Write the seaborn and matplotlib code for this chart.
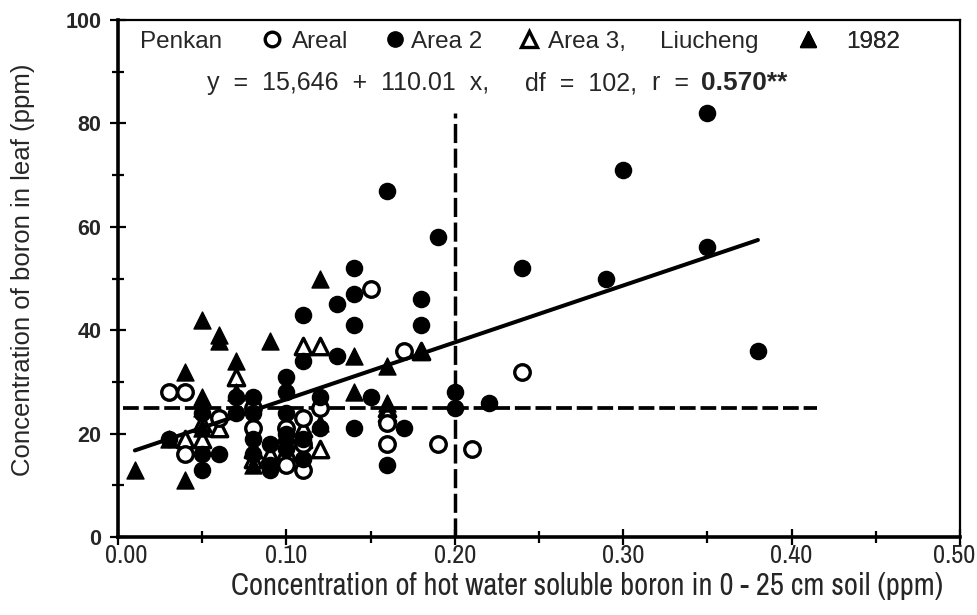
import matplotlib
matplotlib.use("Agg")
import matplotlib.pyplot as plt
import matplotlib.transforms as mtransforms
from matplotlib.lines import Line2D
import seaborn as sns
import numpy as np
import pandas as pd

# ---------------- data ----------------
area1_x = [0.03, 0.04, 0.04, 0.06, 0.08, 0.08, 0.10, 0.10, 0.10, 0.11, 0.11, 0.11,
           0.15, 0.17, 0.16, 0.16, 0.19, 0.21, 0.24, 0.12]
area1_y = [28, 28, 16, 23, 21, 25, 21, 15, 14, 23, 13, 18,
           48, 36, 22, 18, 18, 17, 32, 25]

area2_x = [0.35, 0.30, 0.35, 0.29, 0.24, 0.38, 0.22, 0.20, 0.20, 0.16, 0.19, 0.14,
           0.14, 0.13, 0.14, 0.18, 0.18, 0.11, 0.13, 0.11, 0.12, 0.15, 0.17, 0.14,
           0.16, 0.10, 0.10, 0.10, 0.10, 0.10, 0.09, 0.09, 0.08, 0.08, 0.07, 0.08,
           0.06, 0.05, 0.05, 0.05, 0.03, 0.11, 0.11, 0.08, 0.09, 0.12, 0.07]
area2_y = [82, 71, 56, 50, 52, 36, 26, 28, 25, 67, 58, 52,
           47, 45, 41, 46, 41, 43, 35, 34, 27, 27, 21, 21,
           14, 31, 28, 24, 20, 17, 18, 14, 19, 24, 27, 27,
           16, 24, 16, 13, 19, 19, 15, 16, 13, 21, 24]

area3_x = [0.04, 0.05, 0.06, 0.07, 0.08, 0.09, 0.10, 0.11, 0.12, 0.11, 0.12, 0.16,
           0.18, 0.16, 0.05, 0.08, 0.11]
area3_y = [19, 19, 21, 31, 15, 16, 20, 37, 37, 19, 17, 25,
           36, 24, 22, 17, 21]

y1982_x = [0.01, 0.04, 0.04, 0.05, 0.06, 0.07, 0.09, 0.12, 0.14, 0.14, 0.16, 0.18,
           0.03, 0.05, 0.05, 0.07, 0.08, 0.12, 0.10, 0.06, 0.16, 0.05]
y1982_y = [13, 11, 32, 42, 39, 34, 38, 50, 35, 28, 33, 36,
           19, 27, 25, 28, 14, 22, 16, 38, 26, 21]

# regression (from the printed equation)
reg_intercept = 15.646
reg_slope = 110.01
reg_x_range = [0.01, 0.38]

# reference (critical) levels
critical_soil_b = 0.20
critical_soil_b_top = 82
critical_leaf_b = 25
critical_leaf_b_xrange = [0.003, 0.415]

x_ticks = [0.0, 0.1, 0.2, 0.3, 0.4, 0.5]
x_ticklabels = ["0.00", "0.10", "0.20", "0.30", "0.40", "0.50"]
y_ticks = [0, 20, 40, 60, 80, 100]

# ---------------- plot ----------------
sns.set_theme(style="white")
plt.rcParams["font.family"] = ["Liberation Sans", "DejaVu Sans"]
NARROW = ["Archivo Narrow", "Liberation Sans"]

fig = plt.figure(figsize=(9.78, 6.15), dpi=100)
ax = fig.add_axes([0.1207, 0.1268, 0.8609, 0.8407])

df = pd.concat([
    pd.DataFrame({"x": area1_x, "y": area1_y, "g": "Areal"}),
    pd.DataFrame({"x": area2_x, "y": area2_y, "g": "Area 2"}),
    pd.DataFrame({"x": area3_x, "y": area3_y, "g": "Area 3"}),
    pd.DataFrame({"x": y1982_x, "y": y1982_y, "g": "1982"}),
])

styles = {
    "Areal": dict(marker="o", facecolor="white", edgecolor="black", s=125, linewidth=2.4),
    "Area 2": dict(marker="o", facecolor="black", edgecolor="black", s=135, linewidth=1),
    "Area 3": dict(marker="^", facecolor="white", edgecolor="black", s=140, linewidth=2.4),
    "1982": dict(marker="^", facecolor="black", edgecolor="black", s=150, linewidth=1),
}
for g in ["Area 3", "1982", "Areal", "Area 2"]:
    st = styles[g]
    sub = df[df["g"] == g]
    sns.scatterplot(data=sub, x="x", y="y", ax=ax, marker=st["marker"],
                    color=st["facecolor"], edgecolor=st["edgecolor"],
                    s=st["s"], linewidth=st["linewidth"], zorder=3, legend=False)

# regression line
rx = np.array(reg_x_range)
sns.lineplot(x=rx, y=reg_intercept + reg_slope * rx, ax=ax, color="black",
             linewidth=2.9, zorder=4)

# critical lines
ax.plot([critical_soil_b, critical_soil_b], [0, critical_soil_b_top],
        color="black", linewidth=2.5, linestyle=(0, (5.5, 1.6)), zorder=2)
ax.plot(critical_leaf_b_xrange, [critical_leaf_b, critical_leaf_b],
        color="black", linewidth=2.7, linestyle=(0, (4.2, 1.3)), zorder=2)

ax.set_xlim(0, 0.5)
ax.set_ylim(0, 100)
ax.set_xticks(x_ticks)
ax.set_xticklabels(x_ticklabels)
ax.set_yticks(y_ticks)
ax.set_xticks(np.arange(0.05, 0.5, 0.1), minor=True)
ax.set_yticks(np.arange(10, 100, 20), minor=True)

for sp in ax.spines.values():
    sp.set_color("black")
    sp.set_linewidth(1.6)
ax.spines["left"].set_linewidth(2.6)
ax.spines["bottom"].set_linewidth(2.6)

ax.tick_params(axis="both", which="major", direction="inout", length=12, width=1.6,
               color="black", bottom=True, left=True, top=False, right=False)
ax.tick_params(axis="both", which="minor", direction="inout", length=9, width=1.6,
               color="black", bottom=True, left=True, top=False, right=False)
ax.tick_params(axis="y", labelsize=15.5, pad=6)
ax.tick_params(axis="x", labelsize=19, pad=-1)
for lab in ax.get_yticklabels():
    lab.set_fontweight("bold")
xlabs = ax.get_xticklabels()
for lab in xlabs:
    lab.set_family(NARROW)
xlabs[0].set_transform(xlabs[0].get_transform() +
                       mtransforms.ScaledTranslation(0.08, 0, fig.dpi_scale_trans))
xlabs[-1].set_horizontalalignment("right")
xlabs[-1].set_transform(xlabs[-1].get_transform() +
                        mtransforms.ScaledTranslation(0.15, 0, fig.dpi_scale_trans))

ax.set_xlabel("Concentration of hot water soluble boron in 0 - 25 cm soil (ppm)",
              fontsize=22, family=NARROW, va="center")
ax.xaxis.set_label_coords(0.557, -0.095)
ax.set_ylabel("Concentration of boron in leaf (ppm)", fontsize=18.5, va="center")
ax.yaxis.set_label_coords(-0.113, 0.516)
ax.grid(False)

# legend row: one legend per key so each sits where the original puts it
fs = 17.5
row1 = 0.958
ax.text(0.026, row1, "Penkan", transform=ax.transAxes, fontsize=fs, va="center", ha="left")
hl = 0.8
fs_px = fs * 100 / 72
half_px = hl * fs_px / 2
entries = [
    (Line2D([], [], linestyle="none", marker="o", markerfacecolor="white",
            markeredgecolor="black", markersize=10.5, markeredgewidth=2.4),
     "Areal", 272, 292),
    (Line2D([], [], linestyle="none", marker="o", markerfacecolor="black",
            markeredgecolor="black", markersize=11),
     "Area 2", 395, 411),
    (Line2D([], [], linestyle="none", marker="^", markerfacecolor="white",
            markeredgecolor="black", markersize=11, markeredgewidth=2.4),
     "Area 3,", 529, 548),
    (Line2D([], [], linestyle="none", marker="^", markerfacecolor="black",
            markeredgecolor="black", markersize=11.5),
     "1982", 808, 846),
]
for h, lab, mx, tx in entries:
    pad = (tx - mx - half_px) / fs_px
    lg = ax.legend([h], [lab], frameon=False, fontsize=fs, loc="center left",
                   bbox_to_anchor=((mx - half_px - 118) / 842, row1),
                   handlelength=hl, handletextpad=pad, borderaxespad=0, borderpad=0)
    ax.add_artist(lg)
ax.text((660 - 118) / 842, row1, "Liucheng", transform=ax.transAxes,
        fontsize=fs, va="center", ha="left")

eq_y = 0.878
fs2 = 18
ax.text((207 - 118) / 842, eq_y, "y  =  15,646  +  110.01  x,", transform=ax.transAxes,
        fontsize=fs2, va="center", ha="left")
ax.text((525 - 118) / 842, eq_y, "df  =  102,", transform=ax.transAxes,
        fontsize=fs2, va="center", ha="left")
ax.text((652 - 118) / 842, eq_y, "r  =", transform=ax.transAxes,
        fontsize=fs2, va="center", ha="left")
ax.text((701 - 118) / 842, eq_y, "0.570**", transform=ax.transAxes, fontsize=19,
        va="center", ha="left", fontweight="bold")

fig.savefig("out.png", dpi=100)
